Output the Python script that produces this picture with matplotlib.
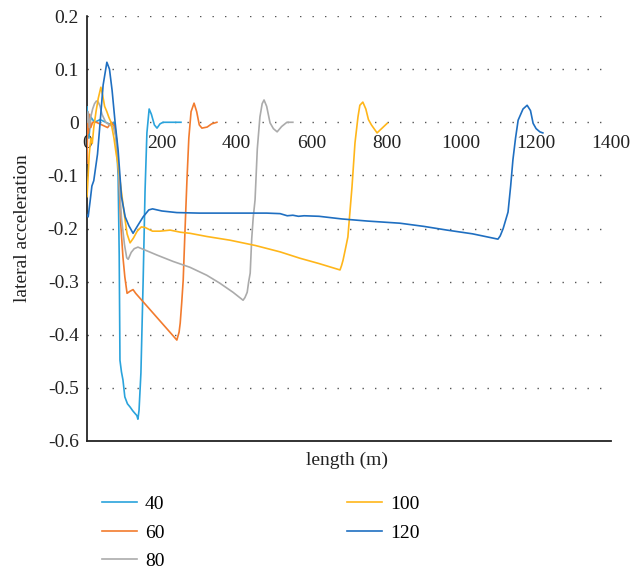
import matplotlib
matplotlib.use("Agg")
import matplotlib.pyplot as plt

plt.rcParams['font.family'] = ['Liberation Serif', 'DejaVu Serif']

# lateral acceleration along the route, one run per speed (km/h)
speeds = ['40', '60', '80', '100', '120']
colors = ['#2aa3dc', '#f27b2e', '#ababab', '#ffb61a', '#1f6fc1']

len_40 = [0, 2, 5, 10, 20, 35, 50, 65, 72, 78, 83, 86, 88, 92, 96, 101, 108, 115,
          122, 128, 133, 136, 139, 144, 150, 155, 160, 166, 172, 180, 187, 195, 203, 225, 251]
acc_40 = [0.029, 0.0, -0.03, 0.01, 0.0, 0.005, 0.0, -0.005, 0.0, -0.03, -0.1, -0.25,
          -0.448, -0.47, -0.485, -0.517, -0.53, -0.536, -0.543, -0.548, -0.552, -0.559,
          -0.542, -0.472, -0.297, -0.13, -0.02, 0.025, 0.015, -0.005, -0.011, -0.003,
          0.0, 0.0, 0.0]

len_60 = [0, 2, 4, 7, 10, 15, 25, 40, 55, 65, 75, 80, 85, 90, 96, 101, 107, 115, 123,
          130, 150, 180, 210, 240, 246, 249, 253, 257, 262, 267, 272, 278, 286, 293,
          300, 307, 314, 321, 333, 347]
acc_60 = [-0.077, 0.013, -0.02, 0.015, -0.01, 0.0, 0.0, -0.005, -0.01, 0.0, -0.01,
          -0.04, -0.1, -0.19, -0.254, -0.291, -0.322, -0.318, -0.315, -0.322, -0.338,
          -0.362, -0.386, -0.410, -0.395, -0.378, -0.34, -0.297, -0.2, -0.109, -0.03,
          0.02, 0.036, 0.02, -0.005, -0.011, -0.01, -0.009, -0.003, 0.0]

len_80 = [0, 3, 6, 10, 15, 20, 25, 30, 35, 40, 50, 60, 70, 78, 85, 92, 100, 106, 110,
          118, 126, 136, 160, 187, 230, 275, 320, 355, 390, 417, 422, 428, 432, 436,
          440, 444, 449, 455, 462, 468, 473, 480, 489, 498, 508, 520, 534, 550]
acc_80 = [0.0, 0.02, -0.01, 0.01, 0.025, 0.035, 0.04, 0.038, 0.03, 0.015, 0.0, -0.005,
          -0.008, -0.03, -0.1, -0.18, -0.23, -0.255, -0.258, -0.245, -0.238, -0.235,
          -0.242, -0.25, -0.262, -0.273, -0.288, -0.303, -0.32, -0.335, -0.33, -0.32,
          -0.3, -0.284, -0.22, -0.18, -0.146, -0.05, 0.01, 0.035, 0.042, 0.03, -0.001,
          -0.012, -0.018, -0.008, 0.0, 0.0]

len_100 = [0, 3, 6, 10, 14, 18, 24, 30, 37, 42, 47, 53, 58, 64, 72, 78, 83, 90, 99,
           107, 115, 124, 134, 145, 155, 175, 195, 222, 250, 275, 320, 382, 450, 516,
           569, 620, 676, 680, 684, 690, 697, 708, 716, 724, 729, 737, 745, 752, 760,
           775, 790, 802]
acc_100 = [-0.14, -0.10, -0.06, -0.03, -0.04, -0.01, 0.02, 0.045, 0.066, 0.05, 0.03,
           0.02, 0.01, 0.0, -0.03, -0.06, -0.08, -0.12, -0.17, -0.21, -0.227, -0.218,
           -0.205, -0.197, -0.198, -0.205, -0.205, -0.203, -0.207, -0.209, -0.215,
           -0.222, -0.232, -0.244, -0.256, -0.266, -0.278, -0.27, -0.26, -0.24, -0.216,
           -0.122, -0.039, 0.01, 0.032, 0.038, 0.025, 0.005, -0.005, -0.02, -0.01, -0.002]

len_120 = [0, 3, 8, 13, 18, 24, 28, 35, 43, 53, 60, 67, 75, 83, 92, 102, 112, 123, 135,
           150, 165, 175, 200, 240, 300, 400, 480, 516, 535, 550, 565, 580, 620, 681,
           750, 836, 900, 962, 1030, 1098, 1104, 1112, 1125, 1132, 1138, 1145, 1152,
           1165, 1176, 1185, 1192, 1200, 1210, 1218]
acc_120 = [-0.175, -0.178, -0.15, -0.12, -0.11, -0.08, -0.06, 0.0, 0.07, 0.113, 0.10,
           0.06, 0.0, -0.052, -0.14, -0.178, -0.195, -0.209, -0.195, -0.178, -0.165,
           -0.163, -0.167, -0.170, -0.171, -0.171, -0.171, -0.172, -0.176, -0.175,
           -0.177, -0.176, -0.177, -0.182, -0.186, -0.190, -0.196, -0.203, -0.21,
           -0.220, -0.214, -0.2, -0.169, -0.12, -0.071, -0.03, 0.004, 0.025, 0.032,
           0.022, -0.002, -0.012, -0.018, -0.02]

x_ticks = [0, 200, 400, 600, 800, 1000, 1200, 1400]
y_ticks = [0.2, 0.1, 0, -0.1, -0.2, -0.3, -0.4, -0.5, -0.6]

runs = [(len_40, acc_40), (len_60, acc_60), (len_80, acc_80),
        (len_100, acc_100), (len_120, acc_120)]

fs = 14
fig = plt.figure(figsize=(6.32, 5.73), dpi=100)
ax = fig.add_axes([0.1377, 0.2304, 0.829, 0.7416])

for (xs, ys), name, c in zip(runs, speeds, colors):
    ax.plot(xs, ys, color=c, lw=1.2, label=name, zorder=3)

ax.set_xlim(0, 1400)
ax.set_ylim(-0.6, 0.2)
ax.set_xticks(x_ticks)
ax.set_yticks(y_ticks)
ax.set_yticklabels([('%g' % v) for v in y_ticks])

# x axis crosses at zero, plot area closed with a line at the bottom
for s in ['top', 'right']:
    ax.spines[s].set_visible(False)
ax.spines['bottom'].set_position(('data', 0))
ax.spines['bottom'].set_visible(False)
ax.spines['left'].set_linewidth(1.1)
ax.axhline(-0.6, color='#222222', lw=1.3, zorder=4, clip_on=False)

for v in y_ticks[:-1]:
    ax.axhline(v, color='#555555', lw=1.0, linestyle=(0, (1, 8)), zorder=1)

ax.tick_params(axis='x', length=0, pad=9, labelsize=fs, colors='#222222')
ax.tick_params(axis='y', length=0, pad=6, labelsize=fs, colors='#222222')

ax.set_ylabel('lateral acceleration', fontsize=fs, color='#222222', labelpad=12)
fig.text(0.549, 0.197, 'length (m)', ha='center', va='center', fontsize=fs,
         color='#222222')

fig.legend(loc='upper left', bbox_to_anchor=(0.1614, 0.135), ncol=2, frameon=False,
           fontsize=fs, handlelength=1.8, handletextpad=0.4, columnspacing=9.4,
           labelspacing=0.55, borderpad=0, borderaxespad=0)

fig.savefig('out.png', dpi=100)
